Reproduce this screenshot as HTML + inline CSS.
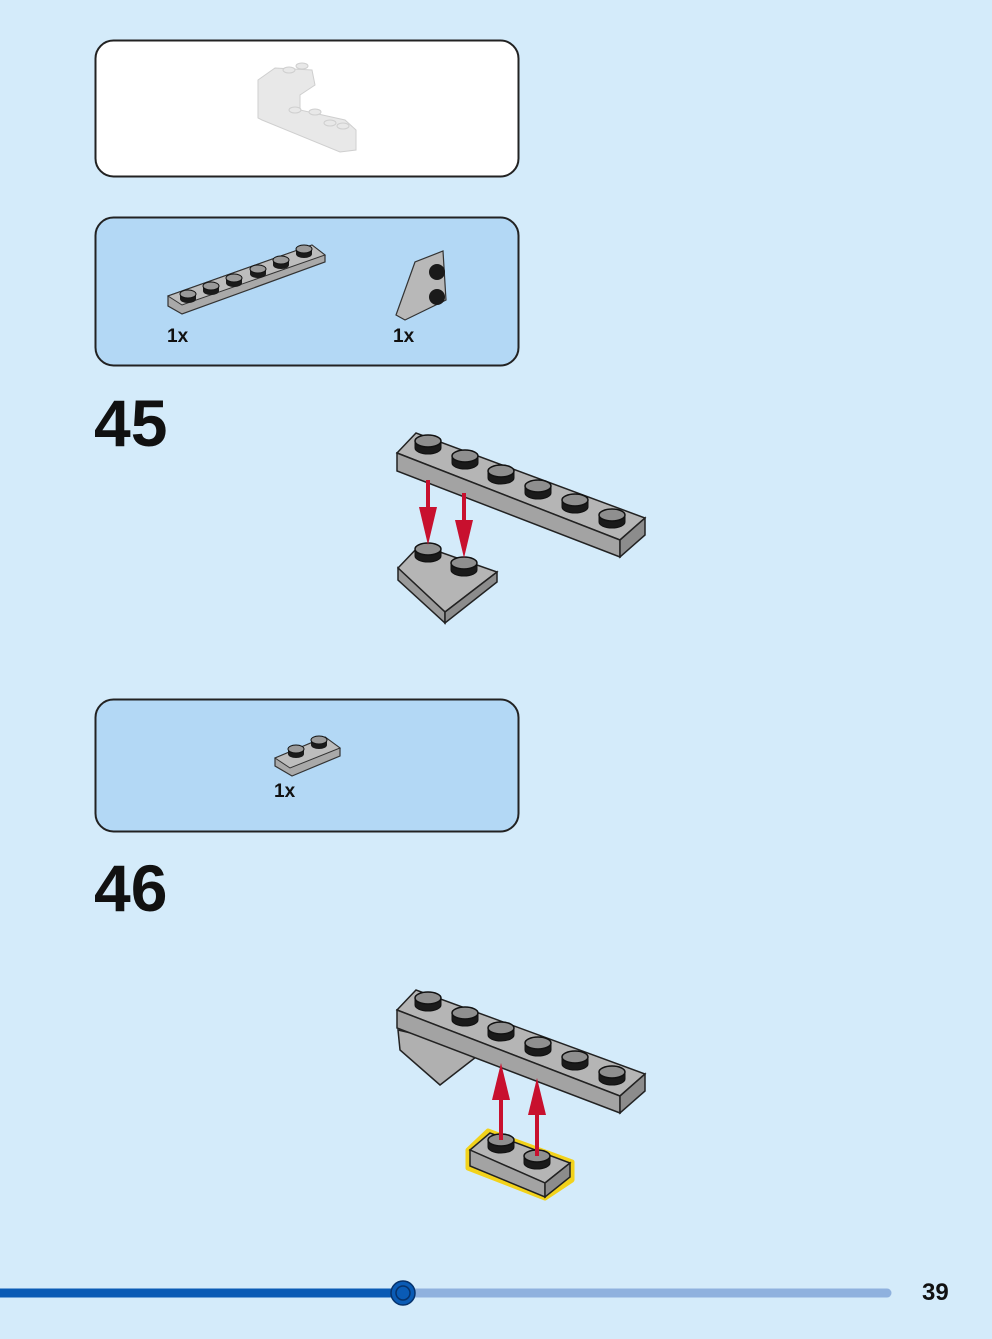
<!DOCTYPE html>
<html><head><style>
html,body{margin:0;padding:0;background:#d4ebfa;}
body{width:992px;height:1339px;position:relative;overflow:hidden;font-family:"Liberation Sans",sans-serif;}
</style></head><body>
<svg width="992" height="1339" viewBox="0 0 992 1339" xmlns="http://www.w3.org/2000/svg" style="position:absolute;left:0;top:0">
<defs>
<g id="stud">
<path d="M-13,0 L-13,7 A13,6 0 0 0 13,7 L13,0 Z" fill="#1a1a1a" stroke="#111" stroke-width="1"/>
<ellipse cx="0" cy="0" rx="13" ry="6" fill="#8f8f8f" stroke="#111" stroke-width="1.5"/>
</g>
<g id="sstud">
<path d="M-8,0 L-8,5 A8,4 0 0 0 8,5 L8,0 Z" fill="#1a1a1a"/>
<ellipse cx="0" cy="0" rx="8" ry="4" fill="#9a9a9a" stroke="#111" stroke-width="1"/>
</g>
</defs>

<!-- boxes -->
<rect x="95.5" y="40.5" width="423" height="136" rx="18" fill="#fff" stroke="#222" stroke-width="2"/>
<rect x="95.5" y="217.5" width="423" height="148" rx="18" fill="#b3d8f5" stroke="#222" stroke-width="2"/>
<rect x="95.5" y="699.5" width="423" height="132" rx="18" fill="#b3d8f5" stroke="#222" stroke-width="2"/>

<!-- top box faded model -->
<g fill="#e8e8e8" stroke="#cfcfcf" stroke-width="1">
<path d="M258,80 L275,68 L312,70 L315,85 L300,95 L300,110 L345,120 L356,130 L356,150 L340,152 L262,120 L258,118 Z"/>
<ellipse cx="289" cy="70" rx="6" ry="3"/><ellipse cx="302" cy="66" rx="6" ry="3"/>
<ellipse cx="295" cy="110" rx="6" ry="3"/><ellipse cx="315" cy="112" rx="6" ry="3"/>
<ellipse cx="330" cy="123" rx="6" ry="3"/><ellipse cx="343" cy="126" rx="6" ry="3"/>
</g>

<!-- parts box 1 -->
<path d="M168,296 L312,245 L325,255 L325,262 L182,314 L168,306 Z" fill="#a9a9a9" stroke="#333" stroke-width="1.2"/>
<path d="M168,296 L312,245 L325,255 L182,305 Z" fill="#bdbdbd" stroke="#333" stroke-width="1"/>
<use href="#sstud" x="188" y="294"/><use href="#sstud" x="211" y="286"/><use href="#sstud" x="234" y="278"/>
<use href="#sstud" x="258" y="269"/><use href="#sstud" x="281" y="260"/><use href="#sstud" x="304" y="249"/>
<path d="M396,315 L415,262 L443,251 L446,300 L405,320 Z" fill="#b8b8b8" stroke="#333" stroke-width="1.2"/>
<circle cx="437" cy="272" r="8" fill="#1a1a1a"/><circle cx="437" cy="297" r="8" fill="#1a1a1a"/>
<text x="167" y="342" font-size="19" font-weight="bold" fill="#111">1x</text>
<text x="393" y="342" font-size="19" font-weight="bold" fill="#111">1x</text>

<text x="94" y="446" font-size="66" font-weight="bold" fill="#111">45</text>

<!-- step 45 -->
<path d="M397,453 L416,433 L645,518 L620,540 Z" fill="#b5b5b5" stroke="#222" stroke-width="1.5"/>
<path d="M397,453 L620,540 L620,557 L397,471 Z" fill="#a3a3a3" stroke="#222" stroke-width="1.5"/>
<path d="M620,540 L645,518 L645,535 L620,557 Z" fill="#8c8c8c" stroke="#222" stroke-width="1.5"/>
<use href="#stud" x="428" y="441"/><use href="#stud" x="465" y="456"/><use href="#stud" x="501" y="471"/>
<use href="#stud" x="538" y="486"/><use href="#stud" x="575" y="500"/><use href="#stud" x="612" y="515"/>
<path d="M398,568 L420,545 L497,572 L445,612 Z" fill="#b5b5b5" stroke="#222" stroke-width="1.5"/>
<path d="M398,568 L445,612 L445,623 L398,580 Z" fill="#9a9a9a" stroke="#222" stroke-width="1.5"/>
<path d="M445,612 L497,572 L497,582 L445,623 Z" fill="#8c8c8c" stroke="#222" stroke-width="1.5"/>
<use href="#stud" x="428" y="549"/><use href="#stud" x="464" y="563"/>
<g fill="#c8102e">
<rect x="426" y="480" width="4" height="30"/><path d="M419,507 L437,507 L428,545 Z"/>
<rect x="462" y="493" width="4" height="30"/><path d="M455,520 L473,520 L464,558 Z"/>
</g>

<!-- parts box 2 -->
<path d="M275,758 L325,737 L340,748 L340,756 L292,776 L275,766 Z" fill="#a9a9a9" stroke="#333" stroke-width="1.2"/>
<path d="M275,758 L325,737 L340,748 L290,768 Z" fill="#bdbdbd" stroke="#333" stroke-width="1"/>
<use href="#sstud" x="296" y="749"/><use href="#sstud" x="319" y="740"/>
<text x="274" y="797" font-size="19" font-weight="bold" fill="#111">1x</text>

<text x="94" y="911" font-size="66" font-weight="bold" fill="#111">46</text>

<!-- step 46 -->
<path d="M398,1030 L400,1050 L440,1085 L485,1050 Z" fill="#b0b0b0" stroke="#222" stroke-width="1.5"/>
<path d="M397,1010 L416,990 L645,1074 L620,1096 Z" fill="#b5b5b5" stroke="#222" stroke-width="1.5"/>
<path d="M397,1010 L620,1096 L620,1113 L397,1028 Z" fill="#a3a3a3" stroke="#222" stroke-width="1.5"/>
<path d="M620,1096 L645,1074 L645,1091 L620,1113 Z" fill="#8c8c8c" stroke="#222" stroke-width="1.5"/>
<use href="#stud" x="428" y="998"/><use href="#stud" x="465" y="1013"/><use href="#stud" x="501" y="1028"/>
<use href="#stud" x="538" y="1043"/><use href="#stud" x="575" y="1057"/><use href="#stud" x="612" y="1072"/>
<path d="M468,1150 L488,1131 L572,1162 L572,1180 L545,1198 L468,1168 Z" fill="none" stroke="#f2d21b" stroke-width="5" stroke-linejoin="round"/>
<path d="M470,1150 L490,1133 L570,1163 L545,1183 Z" fill="#b5b5b5" stroke="#222" stroke-width="1.5"/>
<path d="M470,1150 L545,1183 L545,1197 L470,1166 Z" fill="#a3a3a3" stroke="#222" stroke-width="1.5"/>
<path d="M545,1183 L570,1163 L570,1177 L545,1197 Z" fill="#8c8c8c" stroke="#222" stroke-width="1.5"/>
<g fill="#c8102e">
<rect x="499" y="1095" width="4" height="44"/><path d="M492,1100 L510,1100 L501,1063 Z"/>
<rect x="535" y="1110" width="4" height="44"/><path d="M528,1115 L546,1115 L537,1078 Z"/>
</g>
<use href="#stud" x="501" y="1140"/><use href="#stud" x="537" y="1156"/>
<rect x="499" y="1130" width="4" height="10" fill="#c8102e"/>
<rect x="535" y="1146" width="4" height="10" fill="#c8102e"/>

<!-- progress bar -->
<line x1="403" y1="1293" x2="887" y2="1293" stroke="#8fb1de" stroke-width="9" stroke-linecap="round"/>
<line x1="0" y1="1293" x2="403" y2="1293" stroke="#0a5bb5" stroke-width="9"/>
<circle cx="403" cy="1293" r="12" fill="#0a5bb5" stroke="#06326b" stroke-width="1.5"/>
<circle cx="403" cy="1293" r="7" fill="none" stroke="#06326b" stroke-width="1.5"/>
<text x="922" y="1300" font-size="24" font-weight="bold" fill="#111">39</text>
</svg>
</body></html>
